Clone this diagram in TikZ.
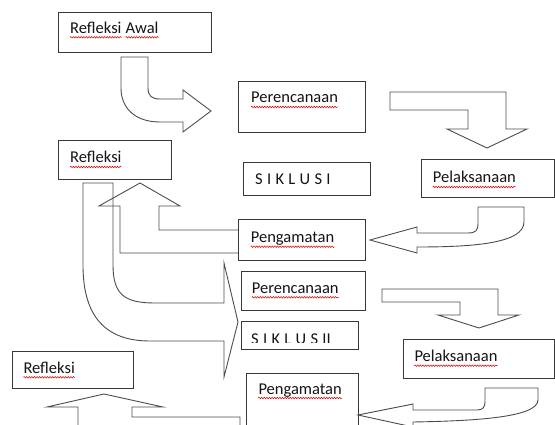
\documentclass[tikz,border=0pt]{standalone}
\usepackage{fontspec}
\setmainfont{Carlito}
\usetikzlibrary{decorations.pathmorphing}
\begin{document}
\begin{tikzpicture}[x=1pt,y=-1pt,
  box/.style={draw=black!78, line width=1pt, fill=white, inner sep=0pt, anchor=north west},
  txt/.style={inner sep=0pt, anchor=base west, font=\fontsize{16.5}{19}\selectfont, text=black!92},
  blk/.style={draw=black!70, line width=0.9pt, line join=miter},
  squig/.style={draw=red!85!black, line width=0.5pt, decorate, decoration={snake, amplitude=0.8pt, segment length=2.6pt}}]
\newcommand\wavy[1]{\draw[squig] ([yshift=-4pt]#1.base west) -- ([yshift=-4pt]#1.base east);}
\newcommand\lsp{\hspace{4.3pt}}
\clip (0,0) rectangle (555,425);
% boxes
\node[box, minimum width=153pt, minimum height=40pt] (b1) at (58,12) {};
\node[box, minimum width=127pt, minimum height=51pt] (b2) at (238,81) {};
\node[box, minimum width=113pt, minimum height=39pt] (b3) at (58,140) {};
\node[box, minimum width=127pt, minimum height=33pt] (b4) at (243,162) {};
\node[box, minimum width=133pt, minimum height=38pt] (b5) at (421,159) {};
\node[box, minimum width=127pt, minimum height=41pt] (b6) at (238,219) {};
\node[box, minimum width=124pt, minimum height=39pt] (b7) at (241,271) {};
\node[box, minimum width=117pt, minimum height=28pt] (b8) at (241,321) {};
\node[box, minimum width=151pt, minimum height=39pt] (b9) at (403,339) {};
\node[box, minimum width=112pt, minimum height=60pt] (b10) at (246,373) {};
\node[box, minimum width=121pt, minimum height=37pt] (b11) at (12,351) {};
% texts
\node[txt] (t1a) at (70,33.3) {Refleksi};
\node[txt] (t1b) at ([xshift=3.8pt]t1a.base east) {Awal};
\node[txt] (t2) at (251,103) {Perencanaan};
\node[txt] (t3) at (70,163) {Refleksi};
\node[txt] (t4) at (255,185) {S\lsp I\lsp K\lsp L\lsp U\lsp S\lsp I};
\node[txt] (t5) at (432.7,183) {Pelaksanaan};
\node[txt] (t6) at (250.7,242.7) {Pengamatan};
\node[txt] (t7) at (251.7,293.3) {Perencanaan};
\begin{scope}
\clip (242,320) rectangle (357,342);
\node[txt] (t8) at (251,344) {S\lsp I\lsp K\lsp L\lsp U\lsp S\lsp II};
\end{scope}
\node[txt] (t9) at (414.3,361.7) {Pelaksanaan};
\node[txt] (t10) at (258.3,394) {Pengamatan};
\node[txt] (t11) at (23.3,373.3) {Refleksi};
\wavy{t1a}\wavy{t1b}\wavy{t2}\wavy{t3}\wavy{t5}\wavy{t6}\wavy{t7}\wavy{t9}\wavy{t10}\wavy{t11}
% block arrows
\draw[blk] (121,57) -- (148,57) -- (148,88) .. controls (148,96) and (152,99) .. (160,99) -- (183,99) -- (183,90) -- (211,111) -- (183,132) -- (183,122) -- (160,122) .. controls (135,122) and (121,108) .. (121,88) -- cycle;
\draw[blk] (390,92) -- (506,92) -- (506,129) -- (527,129) -- (487,148) -- (447,129) -- (468,129) -- (468,110) -- (390,110) -- cycle;
\draw[blk] (478,207) -- (524,207) -- (524,222) .. controls (524,244) and (470,247) .. (417,247) -- (417,253) -- (370,240) -- (417,227) -- (417,233) -- (468,233) .. controls (476,233) and (478,230) .. (478,224) -- cycle;
\draw[blk] (238,230) -- (159,230) -- (159,206) -- (180,206) -- (140,183) -- (99,206) -- (120,206) -- (120,253) -- (238,253);
\draw[blk] (83,183) -- (113,183) -- (113,265) .. controls (113,295) and (125,303) .. (155,303) -- (224,303) -- (224,263) -- (238,322) -- (224,377) -- (224,341) -- (150,341) .. controls (100,341) and (83,310) .. (83,265) -- cycle;
\draw[blk] (382,289) -- (498,289) -- (498,315) -- (519,315) -- (479,328) -- (438,315) -- (460,315) -- (460,302) -- (382,302) -- cycle;
\draw[blk] (485,388) -- (538,388) -- (538,400) .. controls (538,418) and (470,421) .. (413,422) -- (413,427) -- (358,415) -- (413,404) -- (413,410) -- (477,410) .. controls (483,410) and (485,407) .. (485,402) -- cycle;
\draw[blk] (240,440) -- (240,417) -- (132,417) -- (132,407) -- (163,407) -- (104,394) -- (47,407) -- (78,407) -- (78,440);
\end{tikzpicture}
\end{document}
